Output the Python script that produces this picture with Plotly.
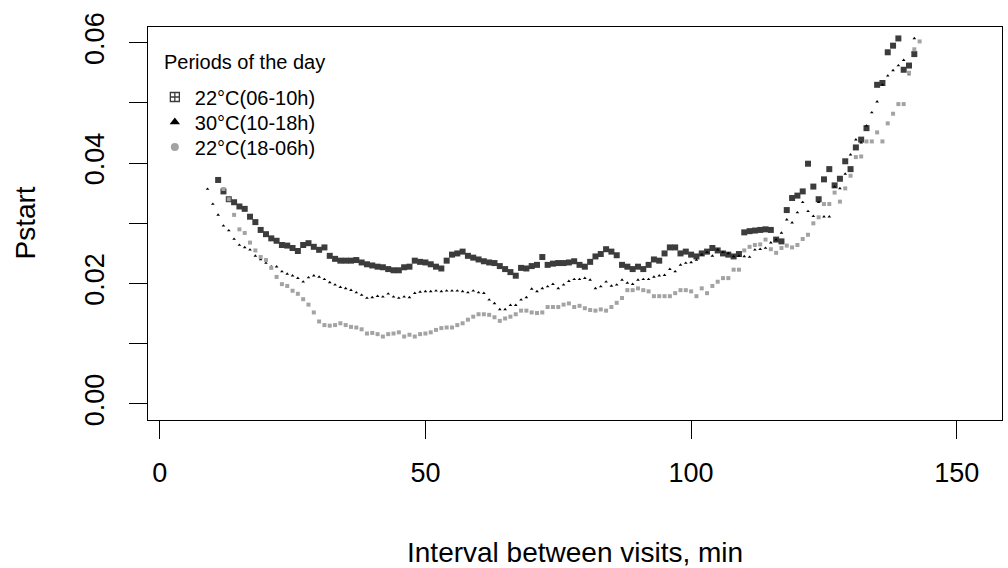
import plotly.graph_objects as go

# ---- data ----
x_morning = list(range(11, 143))
y_morning = [
    0.0372, 0.0353, 0.0340, 0.0335, 0.0328, 0.0324, 0.0311, 0.0302, 0.0289, 0.0282,  # 11-20
    0.0275, 0.0271, 0.0264, 0.0263, 0.0259, 0.0254, 0.0264, 0.0267, 0.0261, 0.0256,  # 21-30
    0.0260, 0.0246, 0.0241, 0.0238, 0.0238, 0.0238, 0.0239, 0.0235, 0.0232, 0.0230,  # 31-40
    0.0228, 0.0227, 0.0224, 0.0222, 0.0222, 0.0227, 0.0228, 0.0238, 0.0236, 0.0235,  # 41-50
    0.0232, 0.0228, 0.0225, 0.0238, 0.0248, 0.0250, 0.0253, 0.0246, 0.0243, 0.0240,  # 51-60
    0.0237, 0.0235, 0.0234, 0.0229, 0.0224, 0.0219, 0.0213, 0.0226, 0.0225, 0.0229,  # 61-70
    0.0231, 0.0244, 0.0231, 0.0233, 0.0234, 0.0234, 0.0235, 0.0237, 0.0231, 0.0228,  # 71-80
    0.0236, 0.0245, 0.0249, 0.0257, 0.0253, 0.0247, 0.0231, 0.0228, 0.0224, 0.0228,  # 81-90
    0.0224, 0.0231, 0.0240, 0.0238, 0.0250, 0.0260, 0.0260, 0.0250, 0.0253, 0.0248,  # 91-100
    0.0245, 0.0250, 0.0253, 0.0259, 0.0255, 0.0250, 0.0248, 0.0245, 0.0249, 0.0285,  # 101-110
    0.0287, 0.0288, 0.0289, 0.0290, 0.0289, 0.0273, 0.0270, 0.0322, 0.0342, 0.0346,  # 111-120
    0.0353, 0.0399, 0.0361, 0.0340, 0.0373, 0.0390, 0.0363, 0.0374, 0.0403, 0.0390,  # 121-130
    0.0426, 0.0439, 0.0458, None, 0.0530, 0.0533, 0.0584, 0.0595, 0.0607, 0.0555,    # 131-140
    0.0562, 0.0581,                                                                  # 141-142
]

x_day = list(range(9, 143))
y_day = [
    0.0357, 0.0332,                                                                  # 9-10
    0.0314, 0.0296, 0.0288, 0.0274, 0.0264, 0.0260, 0.0256, 0.0246, 0.0240, 0.0234,  # 11-20
    0.0228, 0.0228, 0.0220, 0.0216, 0.0213, 0.0209, 0.0203, 0.0210, 0.0213, 0.0211,  # 21-30
    0.0207, 0.0202, 0.0198, 0.0194, 0.0192, 0.0189, 0.0185, 0.0181, 0.0176, 0.0177,  # 31-40
    0.0179, 0.0178, 0.0183, 0.0178, 0.0176, 0.0178, 0.0177, 0.0184, 0.0186, 0.0187,  # 41-50
    0.0187, 0.0188, 0.0187, 0.0188, 0.0188, 0.0188, 0.0187, 0.0185, 0.0188, 0.0185,  # 51-60
    0.0184, 0.0173, 0.0167, 0.0157, 0.0157, 0.0164, 0.0164, 0.0173, 0.0177, 0.0191,  # 61-70
    0.0187, 0.0192, 0.0195, 0.0199, 0.0192, 0.0198, 0.0204, 0.0207, 0.0207, 0.0209,  # 71-80
    0.0206, 0.0192, 0.0195, 0.0203, 0.0196, 0.0198, 0.0206, 0.0201, 0.0199, 0.0206,  # 81-90
    0.0207, 0.0207, 0.0211, 0.0213, 0.0214, 0.0224, 0.0220, 0.0231, 0.0234, 0.0235,  # 91-100
    0.0239, 0.0248, 0.0252, 0.0246, 0.0256, 0.0252, 0.0250, 0.0245, 0.0246, 0.0245,  # 101-110
    0.0244, 0.0256, 0.0257, 0.0259, 0.0268, 0.0273, 0.0284, 0.0306, 0.0301, 0.0318,  # 111-120
    0.0335, 0.0320, 0.0312, 0.0335, 0.0311, 0.0311, 0.0361, 0.0358, 0.0382, 0.0414,  # 121-130
    0.0439, 0.0434, 0.0462, 0.0484, 0.0502, 0.0530, 0.0545, 0.0554, 0.0562, 0.0571,  # 131-140
    0.0547, 0.0607,                                                                  # 141-142
]

x_night = list(range(12, 144))
y_night = [
    0.0357, 0.0340, 0.0314, 0.0290, 0.0284, 0.0268, 0.0255, 0.0244, 0.0239,          # 12-20
    0.0226, 0.0211, 0.0199, 0.0196, 0.0188, 0.0183, 0.0174, 0.0165, 0.0152, 0.0137,  # 21-30
    0.0131, 0.0130, 0.0131, 0.0134, 0.0131, 0.0128, 0.0127, 0.0124, 0.0117, 0.0118,  # 31-40
    0.0116, 0.0112, 0.0116, 0.0117, 0.0119, 0.0112, 0.0115, 0.0112, 0.0116, 0.0117,  # 41-50
    0.0119, 0.0123, 0.0126, 0.0127, 0.0127, 0.0131, 0.0134, 0.0140, 0.0145, 0.0149,  # 51-60
    0.0149, 0.0148, 0.0144, 0.0138, 0.0142, 0.0145, 0.0149, 0.0155, 0.0155, 0.0152,  # 61-70
    0.0151, 0.0152, 0.0161, 0.0161, 0.0161, 0.0165, 0.0167, 0.0161, 0.0163, 0.0159,  # 71-80
    0.0156, 0.0155, 0.0157, 0.0155, 0.0161, 0.0168, 0.0176, 0.0189, 0.0189, 0.0192,  # 81-90
    0.0189, 0.0187, 0.0179, 0.0179, 0.0179, 0.0179, 0.0184, 0.0189, 0.0189, 0.0187,  # 91-100
    0.0179, 0.0192, 0.0184, 0.0196, 0.0203, 0.0209, 0.0209, 0.0223, 0.0223, 0.0255,  # 101-110
    0.0261, 0.0264, 0.0265, 0.0273, 0.0257, 0.0251, 0.0259, 0.0263, 0.0260, 0.0264,  # 111-120
    0.0274, 0.0281, 0.0300, 0.0310, 0.0332, 0.0332, 0.0351, 0.0336, 0.0358, 0.0379,  # 121-130
    0.0410, 0.0411, 0.0436, 0.0436, 0.0451, 0.0436, 0.0466, 0.0482, 0.0498, 0.0498,  # 131-140
    0.0550, 0.0589, 0.0602,                                                          # 141-143
]

series_names = ["22°C(06-10h)", "30°C(10-18h)", "22°C(18-06h)"]
legend_title = "Periods of the day"
x_tick_vals = [0, 50, 100, 150]
y_tick_vals = [0.00, 0.01, 0.02, 0.03, 0.04, 0.05, 0.06]
y_tick_text = ["0.00", "", "0.02", "", "0.04", "", "0.06"]

FONT = "Liberation Sans, Arial, sans-serif"
DARK = "#3c3c3c"
GRAY = "#a3a3a3"
LEG_FONT = 20

fig = go.Figure()

# data traces
fig.add_trace(go.Scatter(x=x_morning, y=y_morning, mode="markers", showlegend=False,
                         marker=dict(symbol="square", size=6, color=DARK)))
fig.add_trace(go.Scatter(x=x_day, y=y_day, mode="markers", showlegend=False,
                         marker=dict(symbol="triangle-up", size=3.2, color="black")))
fig.add_trace(go.Scatter(x=x_night, y=y_night, mode="markers", showlegend=False,
                         marker=dict(symbol="square", size=4, color=GRAY)))

# legend-only traces, one small legend per row so the row spacing matches
legend_markers = [
    dict(symbol="square-cross-open", size=9, color=DARK, line=dict(width=1.3, color=DARK)),
    dict(symbol="triangle-up", size=9, color="black"),
    dict(symbol="circle", size=8, color=GRAY),
]
legend_ids = ["legend", "legend2", "legend3"]
row_px = [97, 122, 147]
for name, mk, lid in zip(series_names, legend_markers, legend_ids):
    fig.add_trace(go.Scatter(x=[None], y=[None], mode="markers", name=name,
                             marker=mk, legend=lid))

legend_style = dict(x=0.008, xanchor="left", yanchor="middle",
                    bgcolor="rgba(0,0,0,0)", borderwidth=0,
                    font=dict(family=FONT, size=LEG_FONT, color="black"),
                    itemwidth=30)

axis_common = dict(showline=True, linecolor="black", linewidth=1.3, mirror=True,
                   showgrid=False, zeroline=False, ticks="outside", ticklen=18,
                   tickwidth=1.3, tickcolor="black",
                   tickfont=dict(family=FONT, size=27, color="black"))

fig.update_xaxes(range=[-2.2, 158.5], tickvals=x_tick_vals, ticklabelstandoff=10,
                 **axis_common)
fig.update_yaxes(range=[-0.00266, 0.0626], tickvals=y_tick_vals, ticktext=y_tick_text,
                 tickangle=-90, ticklabelstandoff=14, **axis_common)

fig.update_layout(
    width=1008, height=568,
    margin=dict(l=148, r=6, t=27, b=148),
    paper_bgcolor="white", plot_bgcolor="white",
    font=dict(family=FONT, color="black"),
    showlegend=True,
    legend=dict(y=(420 - row_px[0]) / 393, **legend_style),
    legend2=dict(y=(420 - row_px[1]) / 393, **legend_style),
    legend3=dict(y=(420 - row_px[2]) / 393, **legend_style),
    annotations=[
        dict(text=legend_title, xref="paper", yref="paper",
             x=(162 - 148) / 854, y=(420 - 62) / 393, xanchor="left", yanchor="middle",
             showarrow=False, font=dict(family=FONT, size=LEG_FONT, color="black")),
        dict(text="Interval between visits, min", xref="paper", yref="paper",
             x=0.5, y=-0.338, xanchor="center", yanchor="middle", showarrow=False,
             font=dict(family=FONT, size=28, color="black")),
        dict(text="Pstart", xref="paper", yref="paper", textangle=-90,
             x=-0.144, y=0.5, xanchor="center", yanchor="middle", showarrow=False,
             font=dict(family=FONT, size=28, color="black")),
    ],
)

fig.write_html("out.html")
